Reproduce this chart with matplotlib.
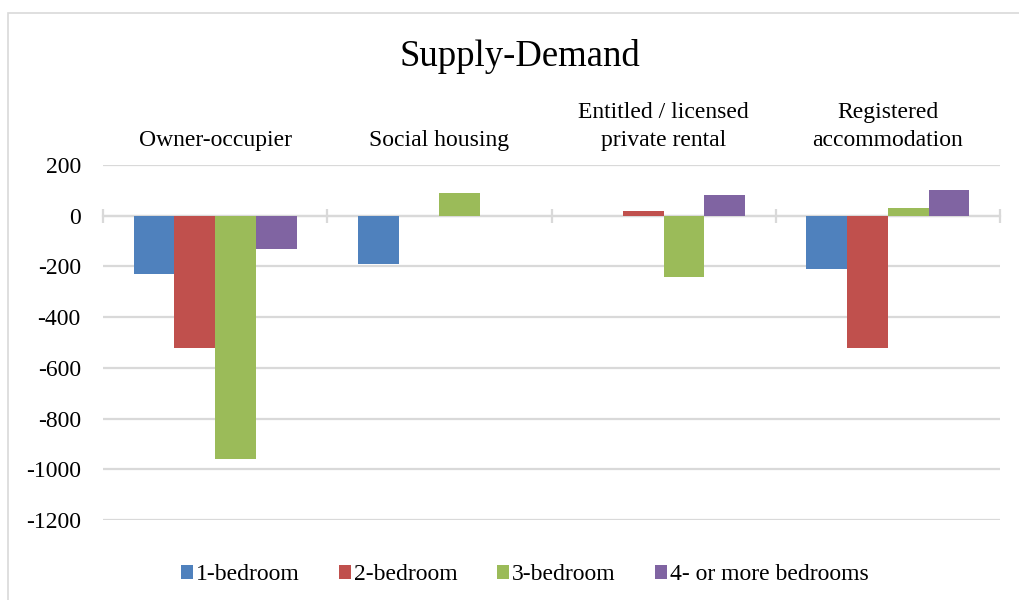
import matplotlib.pyplot as plt
import numpy as np
from matplotlib.patches import Rectangle

plt.rcParams['font.family'] = ['Liberation Serif', 'DejaVu Serif']
plt.rcParams['axes.unicode_minus'] = False

# Data
categories = ["Owner-occupier", "Social housing",
              "Entitled / licensed\nprivate rental", "Registered\naccommodation"]
series_names = ["1-bedroom", "2-bedroom", "3-bedroom", "4- or more bedrooms"]
one_bed = [-230, -190, 0, -210]
two_bed = [-520, 0, 20, -520]
three_bed = [-960, 90, -240, 30]
four_bed = [-130, 0, 80, 100]
yticks = [200, 0, -200, -400, -600, -800, -1000, -1200]

colors = ['#4F81BD', '#C0504D', '#9BBB59', '#8064A2']
grid_col = '#D9D9D9'

fig = plt.figure(figsize=(10.19, 6), dpi=100)
ax = fig.add_axes([0.1011, 0.1333, 0.8803, 0.5917])

x = np.arange(len(categories))
bw = 1 / 5.5
all_series = [one_bed, two_bed, three_bed, four_bed]
for i, (vals, name, col) in enumerate(zip(all_series, series_names, colors)):
    ax.bar(x + (i - 1.5) * bw, vals, width=bw, color=col, label=name, zorder=3)

ax.set_xlim(-0.5, len(categories) - 0.5)
ax.set_ylim(-1200, 200)
ax.set_yticks(yticks)
ax.set_yticklabels([str(v) for v in yticks])
ax.yaxis.grid(True, color=grid_col, linewidth=1.6, zorder=0)
ax.set_axisbelow(True)

# category axis sits at zero with crossing tick marks
for s in ['top', 'right', 'left']:
    ax.spines[s].set_visible(False)
ax.spines['bottom'].set_position(('data', 0))
ax.spines['bottom'].set_color(grid_col)
ax.spines['bottom'].set_linewidth(1.6)
ax.spines['bottom'].set_zorder(2)
ax.set_xticks(np.arange(-0.5, len(categories), 1.0))
ax.set_xticklabels([])
ax.tick_params(axis='x', direction='inout', length=10, width=1.6, color=grid_col)
ax.tick_params(axis='y', length=0, pad=16, labelsize=17)

# category labels above the plot
for xi, lab in zip(x, categories):
    ax.text(xi, 1.039, lab, transform=ax.get_xaxis_transform(), ha='center',
            va='bottom', fontsize=17, linespacing=1.45)

fig.text(0.51, 0.905, "Supply-Demand", ha='center', va='center', fontsize=26.5)

fig.legend(loc='center', bbox_to_anchor=(0.515, 0.0417), ncol=4, frameon=False,
           fontsize=17, handlelength=0.5, handleheight=0.5, handletextpad=0.15,
           columnspacing=1.65)

# chart border
fig.patches.append(Rectangle((8 / 1019, -0.1), 1.2, 1 - 13 / 600 + 0.1,
                             transform=fig.transFigure, fill=False,
                             edgecolor=grid_col, linewidth=1.2))

fig.savefig('out.png', dpi=100)
